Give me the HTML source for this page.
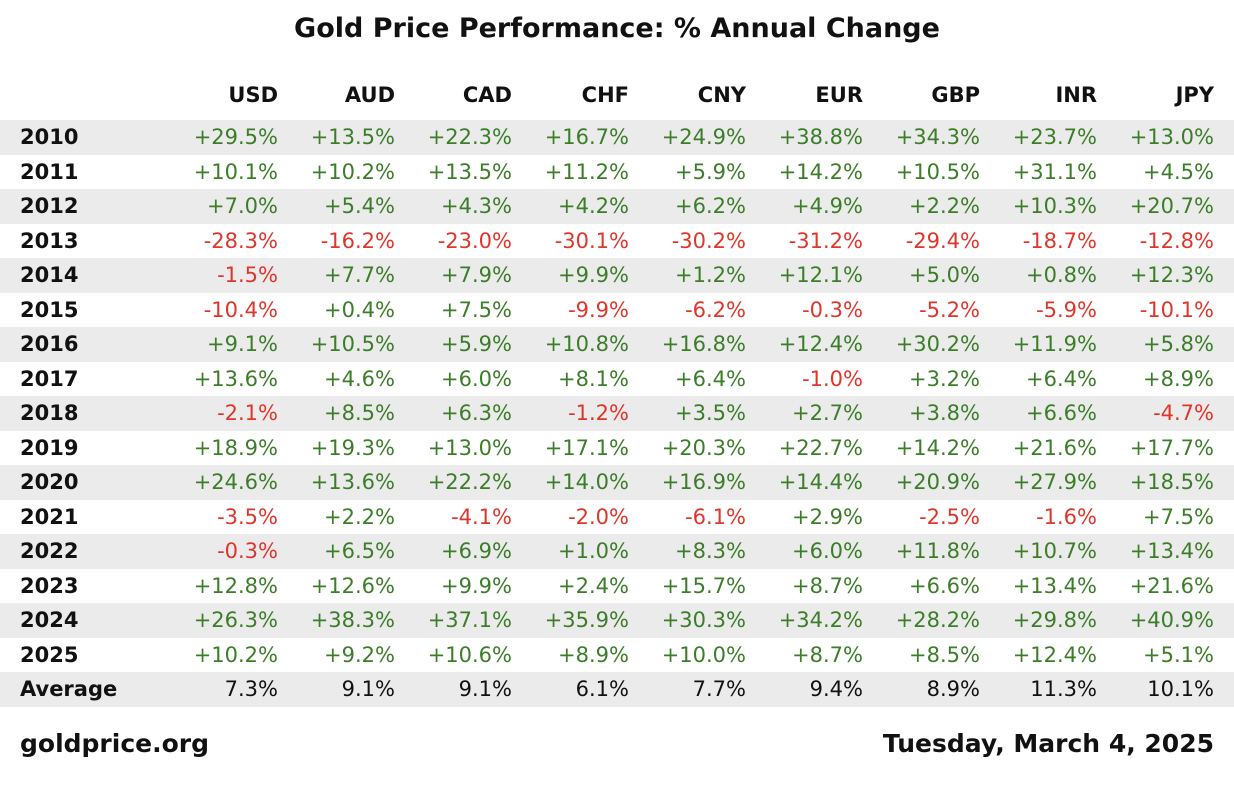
<!DOCTYPE html>
<html><head><meta charset="utf-8"><style>
body{margin:0;width:1234px;height:811px;background:#fff;font-family:"DejaVu Sans","Liberation Sans",sans-serif;position:relative;overflow:hidden}
.t{position:absolute;left:0;width:1234px;top:13px;text-align:center;font-weight:bold;font-size:27px;color:#111}
.r{position:absolute;left:0;width:1234px;height:34.5px}
.s{background:#ebebeb}
.c{position:absolute;top:0;line-height:34.5px;font-size:21px;text-align:right;width:115px}
.y{position:absolute;left:20px;line-height:34.5px;font-size:21px;font-weight:bold;color:#111}
.g{color:#3b7d28}.n{color:#e0352a}.k{color:#111}
.h{font-weight:bold;color:#111}
.f{position:absolute;top:729px;font-size:25px;font-weight:bold;color:#111}
</style></head><body>
<div class="t">Gold Price Performance: % Annual Change</div>
<div id="tb"></div>
<div class="f" style="left:20px">goldprice.org</div>
<div class="f" style="right:20px">Tuesday, March 4, 2025</div>
<script>
var hd=["USD","AUD","CAD","CHF","CNY","EUR","GBP","INR","JPY"];
var d=[
["2010","+29.5%","+13.5%","+22.3%","+16.7%","+24.9%","+38.8%","+34.3%","+23.7%","+13.0%"],
["2011","+10.1%","+10.2%","+13.5%","+11.2%","+5.9%","+14.2%","+10.5%","+31.1%","+4.5%"],
["2012","+7.0%","+5.4%","+4.3%","+4.2%","+6.2%","+4.9%","+2.2%","+10.3%","+20.7%"],
["2013","-28.3%","-16.2%","-23.0%","-30.1%","-30.2%","-31.2%","-29.4%","-18.7%","-12.8%"],
["2014","-1.5%","+7.7%","+7.9%","+9.9%","+1.2%","+12.1%","+5.0%","+0.8%","+12.3%"],
["2015","-10.4%","+0.4%","+7.5%","-9.9%","-6.2%","-0.3%","-5.2%","-5.9%","-10.1%"],
["2016","+9.1%","+10.5%","+5.9%","+10.8%","+16.8%","+12.4%","+30.2%","+11.9%","+5.8%"],
["2017","+13.6%","+4.6%","+6.0%","+8.1%","+6.4%","-1.0%","+3.2%","+6.4%","+8.9%"],
["2018","-2.1%","+8.5%","+6.3%","-1.2%","+3.5%","+2.7%","+3.8%","+6.6%","-4.7%"],
["2019","+18.9%","+19.3%","+13.0%","+17.1%","+20.3%","+22.7%","+14.2%","+21.6%","+17.7%"],
["2020","+24.6%","+13.6%","+22.2%","+14.0%","+16.9%","+14.4%","+20.9%","+27.9%","+18.5%"],
["2021","-3.5%","+2.2%","-4.1%","-2.0%","-6.1%","+2.9%","-2.5%","-1.6%","+7.5%"],
["2022","-0.3%","+6.5%","+6.9%","+1.0%","+8.3%","+6.0%","+11.8%","+10.7%","+13.4%"],
["2023","+12.8%","+12.6%","+9.9%","+2.4%","+15.7%","+8.7%","+6.6%","+13.4%","+21.6%"],
["2024","+26.3%","+38.3%","+37.1%","+35.9%","+30.3%","+34.2%","+28.2%","+29.8%","+40.9%"],
["2025","+10.2%","+9.2%","+10.6%","+8.9%","+10.0%","+8.7%","+8.5%","+12.4%","+5.1%"],
["Average","7.3%","9.1%","9.1%","6.1%","7.7%","9.4%","8.9%","11.3%","10.1%"]];
var h='<div class="r" style="top:78px">';
hd.forEach(function(x,i){h+='<div class="c h" style="left:'+(278+117*i-115)+'px">'+x+'</div>'});
h+='</div>';
d.forEach(function(r,j){
 h+='<div class="r'+(j%2==0?' s':'')+'" style="top:'+(120+34.5*j)+'px"><div class="y">'+r[0]+'</div>';
 for(var i=1;i<10;i++){var c=j==16?'k':(r[i][0]=='-'?'n':'g');
 h+='<div class="c '+c+'" style="left:'+(278+117*(i-1)-115)+'px">'+r[i]+'</div>';}
 h+='</div>';});
document.getElementById('tb').innerHTML=h;
</script>
</body></html>
